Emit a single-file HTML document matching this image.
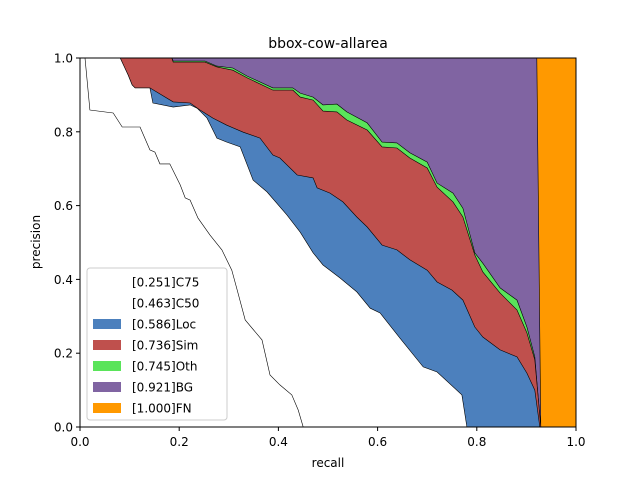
<!DOCTYPE html>
<html><head><meta charset="utf-8"><style>
body{margin:0;background:#fff;font-family:"Liberation Sans","DejaVu Sans",sans-serif}
</style></head><body>
<svg id="chart" width="640" height="480" xmlns="http://www.w3.org/2000/svg" font-family="'DejaVu Sans','Liberation Sans',sans-serif">
<rect width="640" height="480" fill="#fff"/>
<g id="plot"></g>
<text x="328" y="48" text-anchor="middle" font-size="14">bbox-cow-allarea</text>
<text x="328" y="467" text-anchor="middle" font-size="12">recall</text>
<text transform="translate(40,242) rotate(-90)" text-anchor="middle" font-size="12">precision</text>
<g id="ticks"></g>
<g id="legend"></g>
</svg>
<script>
const xTicks=[0,0.2,0.4,0.6,0.8,1.0];
const yTicks=[0,0.2,0.4,0.6,0.8,1.0];
const seriesNames=["[0.251]C75","[0.463]C50","[0.586]Loc","[0.736]Sim","[0.745]Oth","[0.921]BG","[1.000]FN"];
const seriesColors=["#ffffff","#ffffff","#4c80bd","#bf504d","#5ae45a","#8064a2","#ff9900"];
const recallC75=[0,.010,.020,.067,.085,.121,.141,.151,.161,.181,.202,.212,.222,.238,.262,.286,.306,.317,.333,.367,.383,.403,.427,.440,.450];
const precC75=[1,1,.859,.851,.813,.813,.751,.745,.713,.713,.656,.621,.615,.566,.520,.480,.425,.371,.290,.236,.141,.114,.087,.046,0];
const recallC50=[0,.081,.097,.105,.111,.141,.147,.188,.222,.236,.256,.276,.296,.323,.349,.377,.417,.444,.470,.490,.524,.558,.585,.605,.645,.692,.720,.770,.780];
const precC50=[1,1,.954,.927,.919,.919,.878,.867,.873,.864,.837,.783,.772,.759,.669,.637,.575,.528,.472,.439,.404,.366,.322,.309,.241,.163,.149,.087,0];
const recallLoc=[0,.081,.097,.105,.111,.141,.188,.222,.242,.268,.296,.329,.363,.389,.403,.438,.470,.478,.504,.530,.558,.579,.609,.639,.665,.700,.720,.750,.772,.796,.812,.847,.881,.901,.917,.927];
const precLoc=[1,1,.954,.927,.919,.919,.881,.878,.859,.837,.818,.799,.783,.737,.729,.683,.675,.648,.634,.610,.569,.542,.493,.480,.453,.425,.393,.371,.344,.271,.244,.209,.190,.146,.100,0];
const recallSim=[0,.185,.188,.252,.276,.308,.337,.389,.429,.444,.470,.490,.518,.538,.579,.609,.639,.665,.700,.720,.752,.772,.796,.812,.847,.881,.901,.917,.923,.929];
const precSim=[1,1,.989,.989,.976,.967,.946,.913,.913,.894,.886,.856,.854,.832,.805,.759,.756,.729,.702,.650,.610,.569,.466,.420,.363,.317,.255,.182,.092,0];
const recallOth=[0,.185,.188,.252,.276,.308,.337,.389,.429,.444,.470,.490,.518,.538,.579,.609,.639,.665,.700,.720,.752,.772,.796,.812,.847,.881,.901,.917,.923,.929];
const precOth=[1,1,.992,.992,.978,.973,.951,.919,.919,.905,.894,.873,.875,.854,.824,.772,.770,.743,.718,.661,.634,.593,.472,.444,.377,.344,.271,.190,.092,0];
const recallBG=[0,.921,.929];
const precBG=[1,1,0];
const recallFN=[0,1];
const precFN=[1,1];

const X0=80,X1=576,Y0=427,Y1=58;
const sx=v=>X0+v*(X1-X0);
const sy=v=>Y0-v*(Y0-Y1);
const NS="http://www.w3.org/2000/svg";
const plot=document.getElementById('plot');
const all=[[recallC75,precC75],[recallC50,precC50],[recallLoc,precLoc],[recallSim,precSim],[recallOth,precOth],[recallBG,precBG],[recallFN,precFN]];
const keys=["c75","c50","loc","sim","oth","bg","fn"];
for(let i=all.length-1;i>=0;i--){
  const [r,p]=all[i];
  let d="M"+sx(r[0])+","+sy(0);
  for(let k=0;k<r.length;k++) d+=" L"+sx(r[k]).toFixed(1)+","+sy(p[k]).toFixed(1);
  d+=" L"+sx(r[r.length-1]).toFixed(1)+","+sy(0)+" Z";
  const a=document.createElementNS(NS,'path');
  a.setAttribute('d',d);a.setAttribute('fill',seriesColors[i]);a.setAttribute('stroke','none');
  
  
  plot.appendChild(a);
  let l="";
  for(let k=0;k<r.length;k++) l+=(k?" L":"M")+sx(r[k]).toFixed(1)+","+sy(p[k]).toFixed(1);
  const ln=document.createElementNS(NS,'path');
  ln.setAttribute('d',l);ln.setAttribute('fill','none');ln.setAttribute('stroke','#000');ln.setAttribute('stroke-width','0.6');
  
  
  plot.appendChild(ln);
}
const frame=document.createElementNS(NS,'rect');
frame.setAttribute('x',X0);frame.setAttribute('y',Y1);frame.setAttribute('width',X1-X0);frame.setAttribute('height',Y0-Y1);
frame.setAttribute('fill','none');frame.setAttribute('stroke','#000');frame.setAttribute('stroke-width','1');


plot.appendChild(frame);
const ticks=document.getElementById('ticks');
xTicks.forEach(v=>{
  const t=document.createElementNS(NS,'line');
  t.setAttribute('x1',sx(v));t.setAttribute('x2',sx(v));t.setAttribute('y1',Y0);t.setAttribute('y2',Y0+4);t.setAttribute('stroke','#000');
  
  
  ticks.appendChild(t);
  const s=document.createElementNS(NS,'text');
  s.setAttribute('x',sx(v));s.setAttribute('y',Y0+19);s.setAttribute('text-anchor','middle');s.setAttribute('font-size','12');
  s.textContent=v.toFixed(1);
  
  
  ticks.appendChild(s);
});
yTicks.forEach(v=>{
  const t=document.createElementNS(NS,'line');
  t.setAttribute('x1',X0-4);t.setAttribute('x2',X0);t.setAttribute('y1',sy(v));t.setAttribute('y2',sy(v));t.setAttribute('stroke','#000');
  
  
  ticks.appendChild(t);
  const s=document.createElementNS(NS,'text');
  s.setAttribute('x',X0-7);s.setAttribute('y',sy(v)+4.5);s.setAttribute('text-anchor','end');s.setAttribute('font-size','12');
  s.textContent=v.toFixed(1);
  
  
  ticks.appendChild(s);
});
const lg=document.getElementById('legend');
const box=document.createElementNS(NS,'rect');
box.setAttribute('x',87);box.setAttribute('y',268);box.setAttribute('width',140);box.setAttribute('height',152);box.setAttribute('rx',3);
box.setAttribute('fill','#fff');box.setAttribute('fill-opacity','0.8');box.setAttribute('stroke','#ccc');


lg.appendChild(box);
seriesNames.forEach((n,i)=>{
  const y=282+i*21;
  const r=document.createElementNS(NS,'rect');
  r.setAttribute('x',93);r.setAttribute('y',y-5);r.setAttribute('width',28);r.setAttribute('height',10);r.setAttribute('fill',seriesColors[i]);
  
  
  lg.appendChild(r);
  const t=document.createElementNS(NS,'text');
  t.setAttribute('x',132);t.setAttribute('y',y+4.5);t.setAttribute('font-size','12');t.textContent=n;
  
  
  lg.appendChild(t);
});
</script>
</body></html>
